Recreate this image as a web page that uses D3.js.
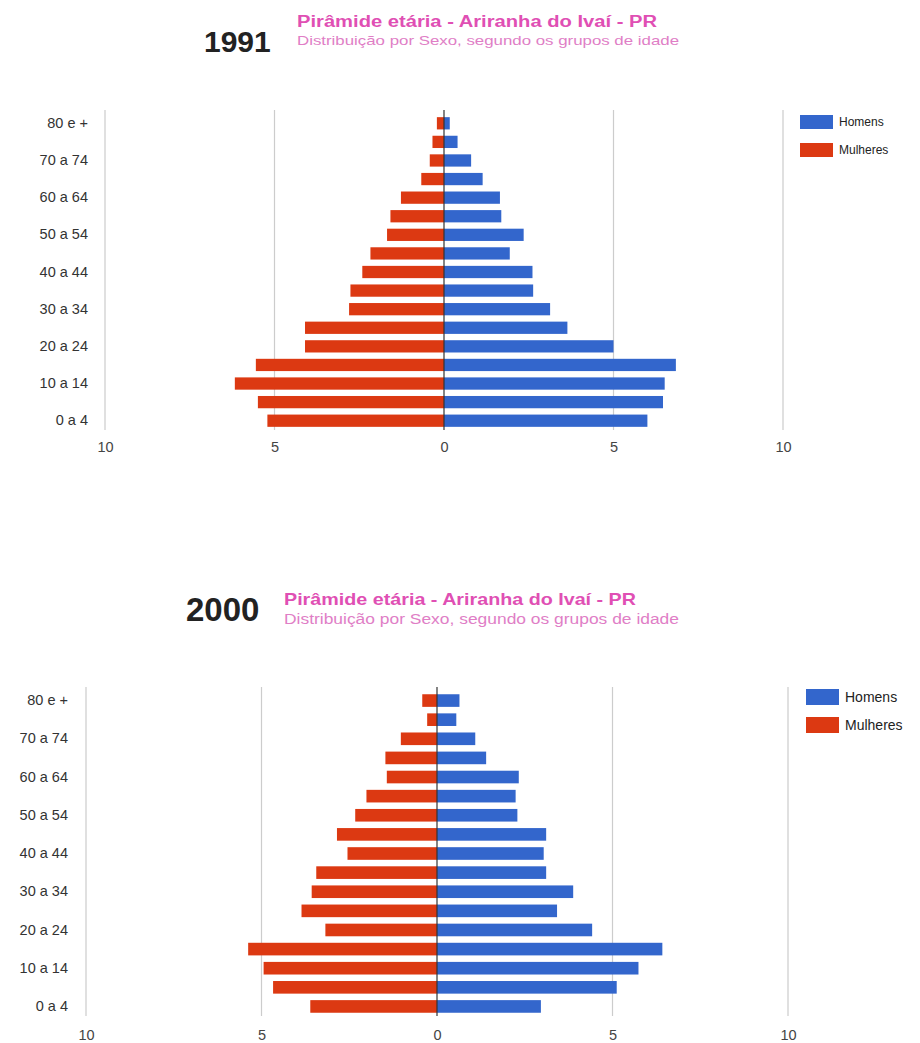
<!DOCTYPE html>
<html>
<head>
<meta charset="utf-8">
<script src="https://cdn.jsdelivr.net/npm/d3@7"></script>
<style>
  html, body { margin: 0; padding: 0; background: #fff; }
  svg { display: block; font-family: "Liberation Sans", Arial, sans-serif; }
</style>
</head>
<body>
<svg id="chart" width="920" height="1043"></svg>
<script>
// Age groups, youngest first (bottom of the pyramid)
const ageGroups = ["0 a 4", "5 a 9", "10 a 14", "15 a 19", "20 a 24", "25 a 29", "30 a 34",
  "35 a 39", "40 a 44", "45 a 49", "50 a 54", "55 a 59", "60 a 64", "65 a 69",
  "70 a 74", "75 a 79", "80 e +"];
// Only every other group gets an axis label
const shownAgeLabels = ["0 a 4", "10 a 14", "20 a 24", "30 a 34", "40 a 44",
  "50 a 54", "60 a 64", "70 a 74", "80 e +"];

// Share of the population (%) per age group
const men1991   = [6.00, 6.46, 6.51, 6.84, 5.00, 3.64, 3.13, 2.63, 2.61, 1.94, 2.35, 1.69, 1.65, 1.14, 0.80, 0.40, 0.17];
const women1991 = [5.21, 5.49, 6.17, 5.55, 4.10, 4.10, 2.80, 2.76, 2.41, 2.17, 1.68, 1.58, 1.27, 0.67, 0.42, 0.34, 0.21];
const men2000   = [2.96, 5.12, 5.74, 6.42, 4.42, 3.42, 3.88, 3.11, 3.04, 3.11, 2.29, 2.24, 2.33, 1.40, 1.09, 0.55, 0.64];
const women2000 = [3.61, 4.67, 4.94, 5.38, 3.18, 3.86, 3.57, 3.44, 2.55, 2.85, 2.33, 2.01, 1.43, 1.47, 1.03, 0.28, 0.42];

const xTickValues = [-10, -5, 0, 5, 10];
const seriesNames = ["Homens", "Mulheres"];
const seriesColors = ["#3366cc", "#dc3912"];

const titleText = "Pirâmide etária - Ariranha do Ivaí - PR";
const subtitleText = "Distribuição por Sexo, segundo os grupos de idade";

const svg = d3.select("#chart");

function drawPyramid(opts, year, men, women) {
  const g = svg.append("g");

  const x = d3.scaleLinear().domain([-10, 10]).range(opts.xRange);
  const y = d3.scaleBand()
    .domain(ageGroups.slice().reverse())
    .range(opts.yRange)
    .paddingInner(0.34)
    .paddingOuter(0.17);

  // heading
  g.append("text")
    .attr("x", opts.yearX).attr("y", opts.yearY)
    .attr("font-size", opts.yearSize).attr("font-weight", "bold")
    .attr("fill", "#222")
    .text(year);
  g.append("text")
    .attr("x", opts.titleX).attr("y", opts.titleY)
    .attr("font-size", opts.titleSize).attr("font-weight", "bold")
    .attr("fill", "#e04fb4")
    .attr("textLength", opts.titleW).attr("lengthAdjust", "spacingAndGlyphs")
    .text(titleText);
  g.append("text")
    .attr("x", opts.titleX).attr("y", opts.subY)
    .attr("font-size", opts.subSize)
    .attr("fill", "#e07ec6")
    .attr("textLength", opts.subW).attr("lengthAdjust", "spacingAndGlyphs")
    .text(subtitleText);

  // vertical grid lines
  g.append("g")
    .selectAll("line")
    .data(xTickValues.filter(d => d !== 0))
    .join("line")
    .attr("x1", d => x(d)).attr("x2", d => x(d))
    .attr("y1", opts.yRange[0] - 4).attr("y2", opts.yRange[1])
    .attr("stroke", "#cccccc").attr("stroke-width", 1.2);

  // bars
  const rows = ageGroups.map((a, i) => ({ age: a, men: men[i], women: women[i] }));
  g.append("g").selectAll("rect")
    .data(rows)
    .join("rect")
    .attr("x", d => x(-d.women))
    .attr("y", d => y(d.age))
    .attr("width", d => x(0) - x(-d.women))
    .attr("height", y.bandwidth())
    .attr("fill", seriesColors[1]);
  g.append("g").selectAll("rect")
    .data(rows)
    .join("rect")
    .attr("x", x(0))
    .attr("y", d => y(d.age))
    .attr("width", d => x(d.men) - x(0))
    .attr("height", y.bandwidth())
    .attr("fill", seriesColors[0]);

  // zero baseline
  g.append("line")
    .attr("x1", x(0)).attr("x2", x(0))
    .attr("y1", opts.yRange[0] - 4).attr("y2", opts.yRange[1])
    .attr("stroke", "#333").attr("stroke-width", 1.2);

  // x axis labels (absolute values)
  const xAxis = d3.axisBottom(x)
    .tickValues(xTickValues)
    .tickFormat(d => Math.abs(d))
    .tickSize(0).tickPadding(0);
  const xg = g.append("g")
    .attr("transform", `translate(0,${opts.xLabelY})`)
    .call(xAxis);
  xg.select(".domain").remove();
  xg.selectAll("text")
    .attr("font-family", "Liberation Sans, Arial, sans-serif")
    .attr("font-size", opts.labelSize).attr("fill", "#444")
    .attr("dy", "0.35em");

  // y axis labels
  const yAxis = d3.axisLeft(y)
    .tickValues(shownAgeLabels)
    .tickSize(0).tickPadding(0);
  const yg = g.append("g")
    .attr("transform", `translate(${opts.yLabelX},0)`)
    .call(yAxis);
  yg.select(".domain").remove();
  yg.selectAll("text")
    .attr("font-family", "Liberation Sans, Arial, sans-serif")
    .attr("font-size", opts.labelSize).attr("fill", "#333");

  // legend
  const lg = g.append("g").attr("transform", `translate(${opts.legendX},${opts.legendY})`);
  seriesNames.forEach((name, i) => {
    lg.append("rect")
      .attr("x", 0).attr("y", i * opts.legendStep)
      .attr("width", opts.swatchW).attr("height", opts.swatchH)
      .attr("fill", seriesColors[i]);
    lg.append("text")
      .attr("x", opts.swatchW + 6).attr("y", i * opts.legendStep + opts.swatchH / 2)
      .attr("dy", "0.35em")
      .attr("font-size", opts.legendSize).attr("fill", "#222")
      .text(name);
  });
}

drawPyramid({
  xRange: [105, 783], yRange: [114, 430],
  yearX: 204, yearY: 52, yearSize: 30,
  titleX: 297, titleY: 27, titleSize: 16, titleW: 360,
  subY: 45, subSize: 13, subW: 382,
  xLabelY: 447, yLabelX: 88, labelSize: 14.5,
  legendX: 800, legendY: 115, legendStep: 28, swatchW: 33, swatchH: 14, legendSize: 12
}, "1991", men1991, women1991);

drawPyramid({
  xRange: [86, 788], yRange: [691, 1016],
  yearX: 186, yearY: 621, yearSize: 33,
  titleX: 284, titleY: 605, titleSize: 17, titleW: 352,
  subY: 624, subSize: 14, subW: 395,
  xLabelY: 1035, yLabelX: 68, labelSize: 14.5,
  legendX: 806, legendY: 689, legendStep: 28, swatchW: 33, swatchH: 16, legendSize: 14
}, "2000", men2000, women2000);
</script>
</body>
</html>
